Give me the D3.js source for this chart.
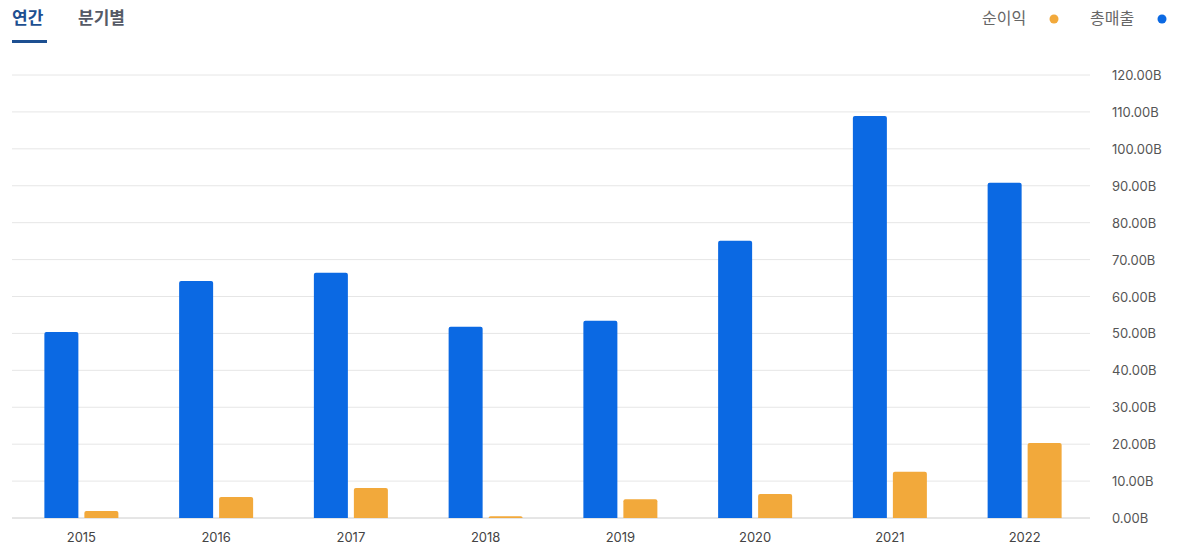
<!DOCTYPE html>
<html><head><meta charset="utf-8">
<script src="https://cdn.jsdelivr.net/npm/d3@7"></script>
<style>body{margin:0;background:#fff;font-family:Inter,"Noto Sans CJK KR",sans-serif;}</style>
</head><body><div id="chart"></div>
<script>
const years = ["2015","2016","2017","2018","2019","2020","2021","2022"];
const revenue = [50.4, 64.2, 66.4, 51.8, 53.4, 75.1, 108.9, 90.8];
const netIncome = [1.9, 5.7, 8.1, 0.5, 5.1, 6.5, 12.5, 20.3];
const yTicks = [0,10,20,30,40,50,60,70,80,90,100,110,120];

const W = 1177, H = 548;
const svg = d3.select("#chart").append("svg").attr("width", W).attr("height", H);
const kr = "'Noto Sans CJK KR', sans-serif";

// tabs
svg.append("text").attr("x", 12).attr("y", 24).attr("font-family", kr).attr("font-size", 17)
    .attr("font-weight", 700).attr("fill", "#1d4f91").text("연간");
svg.append("rect").attr("x", 12).attr("y", 40).attr("width", 35).attr("height", 3).attr("fill", "#1d4f91");
svg.append("text").attr("x", 78).attr("y", 24).attr("font-family", kr).attr("font-size", 17)
    .attr("font-weight", 700).attr("fill", "#555a66").text("분기별");

// legend
svg.append("text").attr("x", 982).attr("y", 24).attr("font-family", kr).attr("font-size", 16)
    .attr("fill", "#666").text("순이익");
svg.append("circle").attr("cx", 1054).attr("cy", 19).attr("r", 4.5).attr("fill", "#f2a93b");
svg.append("text").attr("x", 1090).attr("y", 24).attr("font-family", kr).attr("font-size", 16)
    .attr("fill", "#666").text("총매출");
svg.append("circle").attr("cx", 1162).attr("cy", 19).attr("r", 4.5).attr("fill", "#0b69e3");

const x = d3.scaleBand().domain(years).range([12, 1090]);
const y = d3.scaleLinear().domain([0, 120]).range([518, 75]);

// grid
svg.append("g").selectAll("line").data(yTicks).join("line")
    .attr("x1", 12).attr("x2", 1090).attr("y1", d => y(d)).attr("y2", d => y(d))
    .attr("stroke", d => d === 0 ? "#ccc" : "#e6e6e6");

svg.append("g").selectAll("text").data(yTicks).join("text")
    .attr("x", 1112).attr("y", d => y(d) + 5).attr("font-size", 13).attr("fill", "#555")
    .text(d => d.toFixed(2) + "B");

const bw = 34;
function bar(data, off, color) {
    svg.append("g").selectAll("path").data(data).join("path")
        .attr("fill", color)
        .attr("d", (d, i) => {
            const x0 = x(years[i]) + x.bandwidth() / 2 + off, y0 = y(d), y1 = y(0), r = Math.min(2, y1 - y0);
            return `M${x0},${y1}V${y0 + r}Q${x0},${y0} ${x0 + r},${y0}H${x0 + bw - r}Q${x0 + bw},${y0} ${x0 + bw},${y0 + r}V${y1}Z`;
        });
}
bar(revenue, -35, "#0b69e3");
bar(netIncome, 5, "#f2a93b");

svg.append("g").selectAll("text").data(years).join("text")
    .attr("x", d => x(d) + x.bandwidth() / 2 + 2).attr("y", 542).attr("text-anchor", "middle")
    .attr("font-size", 13).attr("fill", "#444").text(d => d);
</script></body></html>
